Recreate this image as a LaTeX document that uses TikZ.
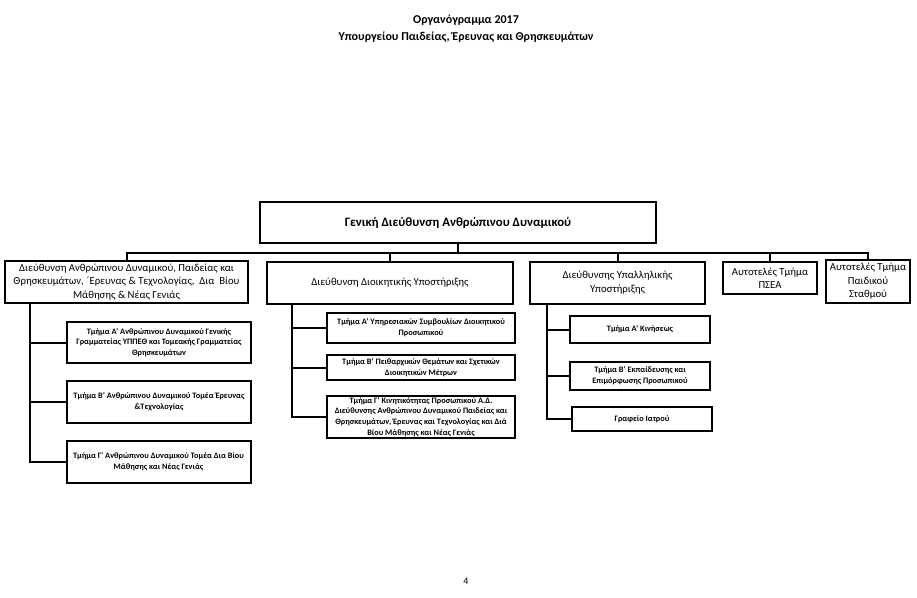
\documentclass[tikz,border=0pt]{standalone}
\usepackage{fontspec}
\setmainfont{Carlito}
\usetikzlibrary{positioning,calc}
\tikzset{
  box/.style={draw,rectangle,line width=2pt,align=center,inner sep=1pt},
  topbox/.style={box,line width=2.2pt,font=\fontsize{12.8}{15}\selectfont\bfseries,minimum width=396pt,minimum height=41pt},
  dirbox/.style={box,font=\fontsize{10.7}{13.5}\selectfont,minimum height=42pt},
  subbox/.style={box,font=\fontsize{8.3}{10.8}\selectfont\bfseries},
  conn/.style={line width=2pt},
  ttl/.style={font=\fontsize{12}{14}\selectfont\bfseries}
}

\begin{document}
\begin{tikzpicture}[x=1pt,y=-1pt]
  \useasboundingbox (0,0) rectangle (917,597);

  % titles
  \node[ttl] (title) at (466,20) {Οργανόγραμμα 2017};
  \node[ttl,font=\fontsize{12}{14}\selectfont\bfseries] (subtitle) at (466,37) {Υπουργείου Παιδείας, Έρευνας και Θρησκευμάτων};

  % top level
  \node[topbox] (gd) at (458,222.5) {Γενική Διεύθυνση Ανθρώπινου Δυναμικού};

  % directorates
  \node[dirbox,minimum width=243pt] (d1) at (126.5,282) {Διεύθυνση Ανθρώπινου Δυναμικού, Παιδείας και\\Θρησκευμάτων, ΄Ερευνας \& Τεχνολογίας,\ \ Δια\ \ Βίου\\Μάθησης \& Νέας Γενιάς};
  \node[dirbox,minimum width=246pt] (d2) at (390,282.5) {Διεύθυνση Διοικητικής Υποστήριξης};
  \node[dirbox,minimum width=175pt] (d3) at (617.5,282.5) {Διεύθυνσης Υπαλληλικής\\Υποστήριξης};
  \node[dirbox,minimum width=94pt,minimum height=32pt,inner sep=0pt] (d4) at (770,278) {Αυτοτελές Τμήμα\\ΠΣΕΑ};
  \node[dirbox,minimum width=84pt,minimum height=43pt,inner sep=0pt] (d5) at (868,281.5) {Αυτοτελές Τμήμα\\Παιδικού\\Σταθμού};

  \coordinate (bus) at (0,253);
  \foreach \n in {d1,d2,d3,d4,d5}
    \draw[conn] (gd.south) -- (gd.south |- bus) -| (\n.north);

  % departments of d1
  \node[subbox,minimum width=184pt,minimum height=41pt] (t1a) at (159,342.5) {Τμήμα Α' Ανθρώπινου Δυναμικού Γενικής\\Γραμματείας ΥΠΠΕΘ και Τομεακής Γραμματείας\\Θρησκευμάτων};
  \node[subbox,minimum width=184pt,minimum height=42pt] (t1b) at (159,402) {Τμήμα Β' Ανθρώπινου Δυναμικού Τομέα Έρευνας\\\&Τεχνολογίας};
  \node[subbox,minimum width=184pt,minimum height=42pt] (t1c) at (158.5,462) {Τμήμα Γ' Ανθρώπινου Δυναμικού Τομέα Δια Βίου\\Μάθησης και Νέας Γενιάς};
  \foreach \c in {t1a,t1b,t1c}
    \draw[conn] ([xshift=26pt]d1.south west) |- (\c.west);

  % departments of d2
  \node[subbox,minimum width=188pt,minimum height=30pt] (t2a) at (421,328) {Τμήμα Α' Υπηρεσιακών Συμβουλίων Διοικητικού\\Προσωπικού};
  \node[subbox,minimum width=188pt,minimum height=25pt] (t2b) at (421,367.5) {Τμήμα Β' Πειθαρχικών Θεμάτων και Σχετικών\\Διοικητικών Μέτρων};
  \node[subbox,minimum width=188pt,minimum height=42pt,inner sep=0pt] (t2c) at (421,417) {Τμήμα Γ' Κινητικότητας Προσωπικού Α.Δ.\\Διεύθυνσης Ανθρώπινου Δυναμικού Παιδείας και\\Θρησκευμάτων, Έρευνας και Τεχνολογίας και Διά\\Βίου Μάθησης και Νέας Γενιάς};
  \foreach \c in {t2a,t2b,t2c}
    \draw[conn] ([xshift=26pt]d2.south west) |- (\c.west);

  % departments of d3
  \node[subbox,minimum width=140pt,minimum height=27pt] (t3a) at (640,329.5) {Τμήμα Α' Κινήσεως};
  \node[subbox,minimum width=140pt,minimum height=28pt] (t3b) at (640,376) {Τμήμα Β' Εκπαίδευσης και\\Επιμόρφωσης Προσωπικού};
  \node[subbox,minimum width=140pt,minimum height=24pt] (t3c) at (642,419) {Γραφείο Ιατρού};
  \foreach \c in {t3a,t3b,t3c}
    \draw[conn] ([xshift=18pt]d3.south west) |- (\c.west);

  \node[font=\fontsize{10}{12}\selectfont] (page) at (466,581) {4};
\end{tikzpicture}
\end{document}
